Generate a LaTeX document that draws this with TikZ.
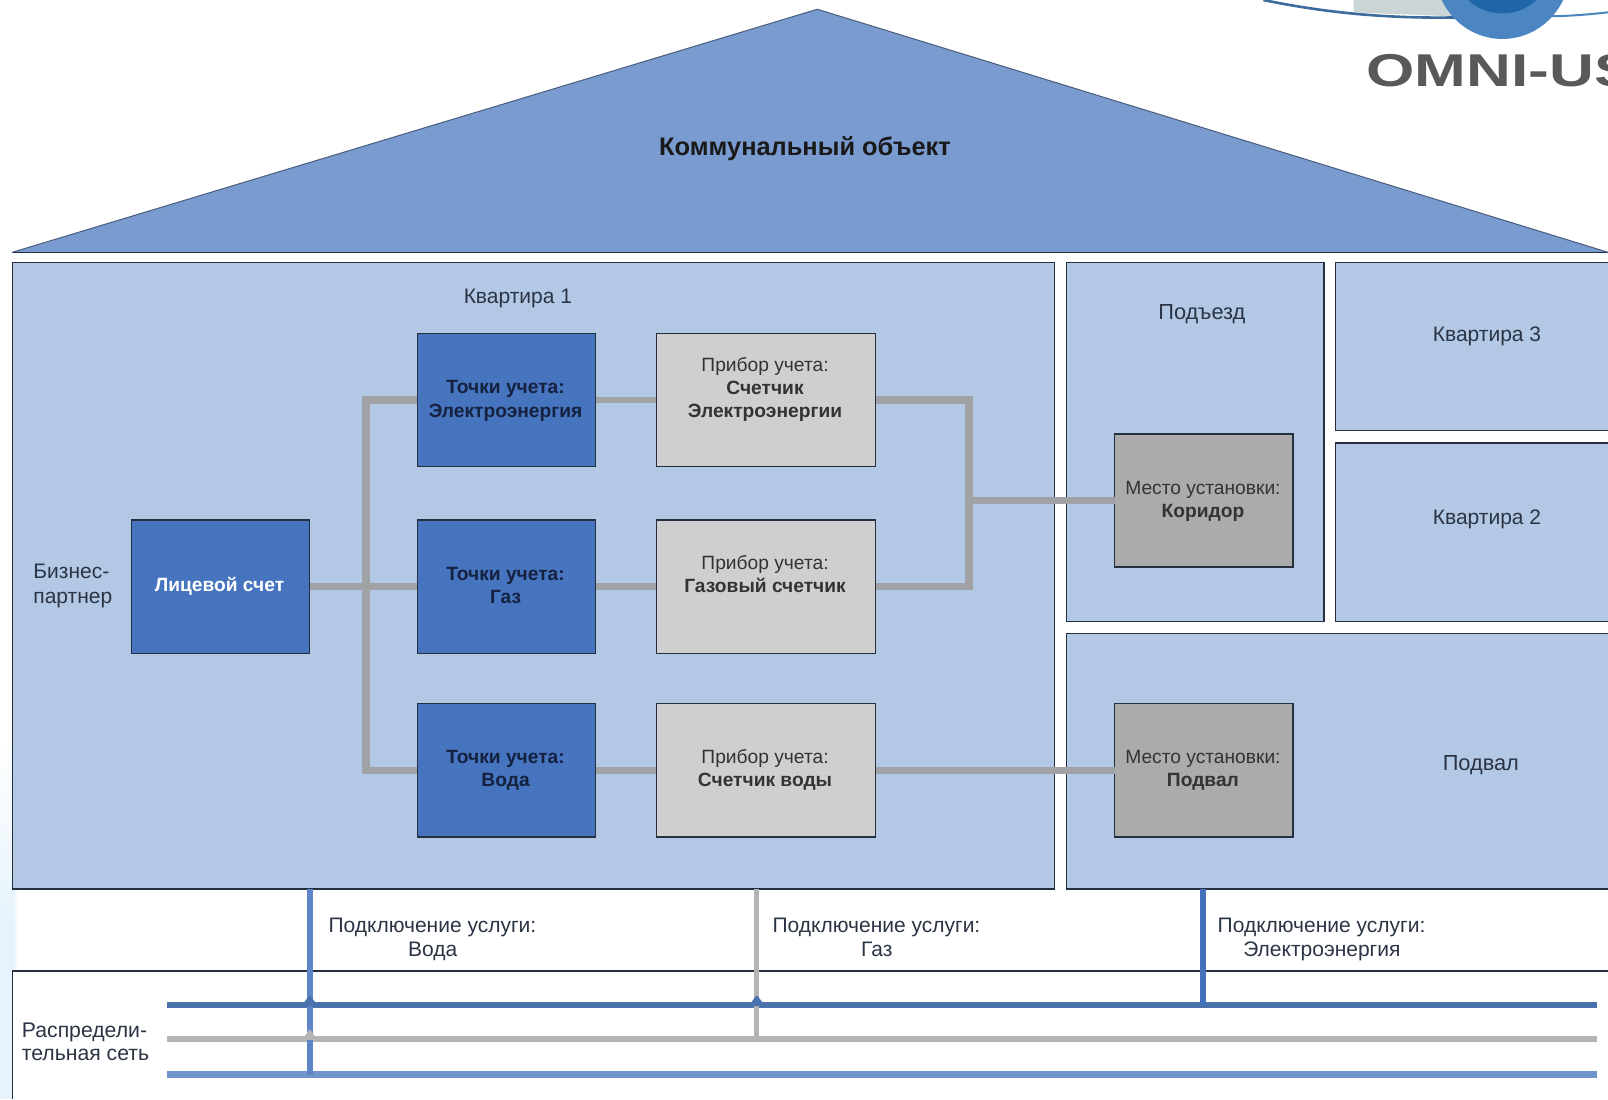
\documentclass[tikz,border=0pt]{standalone}
\usepackage{fontspec}
\setmainfont{Liberation Sans}
\definecolor{roofc}{HTML}{7A9BD0}
\definecolor{roomc}{HTML}{B3C8E4}
\definecolor{bluebox}{HTML}{4674BE}
\definecolor{graybox}{HTML}{CFCFCF}
\definecolor{darkgray}{HTML}{ABABAB}
\definecolor{wire}{HTML}{A0A2A6}
\definecolor{edgec}{HTML}{24303F}
\definecolor{netdark}{HTML}{4A73AE}
\definecolor{netgray}{HTML}{B4B4B4}
\definecolor{netlight}{HTML}{7094CC}
\definecolor{vblue}{HTML}{5E86C6}
\definecolor{vbluedark}{HTML}{4472B8}
\definecolor{logog}{HTML}{58595B}
\definecolor{logob}{HTML}{4C86C2}
\definecolor{logod}{HTML}{1F66A8}
\definecolor{logoimg}{HTML}{CBD5D5}
\definecolor{strip}{HTML}{E6F3FC}
\definecolor{txt}{HTML}{2B3445}
\definecolor{txtb}{HTML}{14213F}
\tikzset{
  x=0.5128pt,y=-0.5128pt,
  every node/.style={font=\fontsize{10.5pt}{12.5pt}\selectfont,text=txt},
  room/.style={draw=edgec,line width=0.7pt,fill=roomc},
  boxn/.style={draw=edgec,line width=0.7pt,fill=#1,anchor=north west,outer sep=0pt,minimum width=89.2pt,minimum height=66.7pt,inner sep=0pt,align=center},
  lab/.style={align=center,inner sep=0pt},
  bl/.style={font=\fontsize{9.6pt}{11.6pt}\selectfont\bfseries,text=txtb,align=center,inner sep=0pt},
  gl/.style={lab,text=black!80,font=\fontsize{9.6pt}{11.6pt}\selectfont},
  conn/.style={draw=wire,line width=3.3pt,line join=miter},
  connthick/.style={draw=wire,line width=3.7pt,line join=miter},
  netline/.style={line width=3pt},
  hump/.style={rounded corners=1pt},
}
\begin{document}
\begin{tikzpicture}
\useasboundingbox (0,0) rectangle (1568,1071.7);
\clip (0,0) rectangle (1568,1071.7);
% left strip
\shade[top color=white,bottom color=strip] (0,720) rectangle (12,900);
\fill[strip] (0,900) rectangle (12,1071.7);
\shade[left color=strip,right color=white] (12,867) rectangle (18,947);
% logo
\fill[logoimg] (1320,0) -- (1432,0) -- (1418,16) -- (1320,12) -- cycle;
\draw[logob!80!black,line width=1.3pt] (1232,0) .. controls (1300,14) and (1360,18) .. (1420,17);
\draw[logob,line width=1pt] (1500,16) .. controls (1530,16) and (1550,14) .. (1568,12);
\fill[logob] (1465,-30) ellipse (66 and 68);
\fill[logod] (1465,-25) ellipse (44 and 38);
\node[font=\fontsize{23pt}{23pt}\selectfont\bfseries,text=logog,anchor=west,inner sep=0pt,xscale=1.35] (logo) at (1332,69) {OMNI-US};
% roof
\fill[roofc] (12,246) -- (797,9) -- (1568,246) -- cycle;
\draw[edgec,line width=0.7pt] (12,246.5) -- (1568,246.5);
\draw[roofc!60!black,line width=0.5pt] (12,246) -- (797,9) -- (1568,246);
\node[font=\fontsize{12.7pt}{15pt}\selectfont\bfseries,inner sep=0pt,text=black!90] (t) at (785,145) {Коммунальный объект};
% rooms
\draw[room] (12,256) rectangle (1028,867);
\draw[room] (1040,256) rectangle (1291,606);
\draw[room] (1302,256) rectangle (1580,420);
\draw[room] (1302,432) rectangle (1580,606);
\draw[room] (1040,618) rectangle (1580,867);
\node[lab] (k1) at (505,291) {Квартира 1};
\node[lab,font=\fontsize{10.9pt}{12.5pt}\selectfont] (pod) at (1172,306) {Подъезд};
\node[lab] (k3) at (1450,328) {Квартира 3};
\node[lab] (k2) at (1450,506) {Квартира 2};
\node[lab,font=\fontsize{10.9pt}{12.5pt}\selectfont] (pv) at (1444,746) {Подвал};
\node[lab,align=left] (bp) at (71,571) {Бизнес-\\партнер};
% boxes
\node[boxn=bluebox] (acc) at (128,507) {};
\node[boxn=bluebox] (p1) at (407,325) {};
\node[boxn=bluebox] (p2) at (407,507) {};
\node[boxn=bluebox] (p3) at (407,686) {};
\node[boxn=graybox,minimum width=109.7pt] (m1) at (640,325) {};
\node[boxn=graybox,minimum width=109.7pt] (m2) at (640,507) {};
\node[boxn=graybox,minimum width=109.7pt] (m3) at (640,686) {};
\node[boxn=darkgray] (s1) at (1087,423) {};
\node[boxn=darkgray] (s2) at (1087,686) {};
% connectors
\coordinate (busX) at (357,0);
\coordinate (rX) at (945,0);
\draw[conn] (acc.east) -- (p2.west);
\draw[connthick] (p1.west) -- (busX |- p1.west) -- (busX |- p3.west) -- (p3.west);
\draw[conn] (p1.east) -- (m1.west);
\draw[conn] (p2.east) -- (m2.west);
\draw[conn] (p3.east) -- (m3.west);
\draw[connthick] (m1.east) -- (rX |- m1.east) -- (rX |- m2.east) -- (m2.east);
\draw[conn] (rX |- s1.west) -- (s1.west);
\draw[conn] (m3.east) -- (s2.west);
% box texts
\node[bl,text=white] (t0) at (214,572) {Лицевой счет};
\node[bl] (t1) at (493,391) {Точки учета:\\Электроэнергия};
\node[bl] (t2) at (493,571) {Точки учета:\\Газ};
\node[bl] (t3) at (493,751) {Точки учета:\\Вода};
\node[gl] (g1) at (746,380) {Прибор учета:\\\textbf{Счетчик}\\\textbf{Электроэнергии}};
\node[gl] (g2) at (746,560) {Прибор учета:\\\textbf{Газовый счетчик}};
\node[gl] (g3) at (746,751) {Прибор учета:\\\textbf{Счетчик воды}};
\node[gl] (d1) at (1173,489) {Место установки:\\\textbf{Коридор}};
\node[gl] (d2) at (1173,751) {Место установки:\\\textbf{Подвал}};
% network
\draw[edgec,line width=0.7pt] (12,947) -- (1568,947);
\draw[edgec,line width=0.7pt] (12,947) -- (12,1072);
\coordinate (a1) at (163,980); \coordinate (a2) at (1557,980);
\coordinate (b1) at (163,1013); \coordinate (b2) at (1557,1013);
\coordinate (c1) at (163,1048); \coordinate (c2) at (1557,1048);
\draw[netlight,line width=3.4pt] (c1) -- (c2);
\draw[netgray,netline] (b1) -- (b2);
\draw[netdark,netline] (a1) -- (a2);
\coordinate (v1) at (302,867); \coordinate (v1e) at (302,1048);
\coordinate (v2) at (738,867); \coordinate (v2e) at (738,1013);
\coordinate (v3) at (1173,867); \coordinate (v3e) at (1173,980);
\draw[netgray,line width=2.4pt] (v2) -- (v2e);
\draw[vblue,line width=2.8pt] (v1) -- (v1e);
\draw[vbluedark,line width=3pt] (v3) -- (v3e);
\fill[netdark,hump] (294,981) -- (302,970) -- (310,981) -- cycle;
\fill[netdark,hump] (730,981) -- (738,970) -- (746,981) -- cycle;
\fill[netgray,hump] (295,1014) -- (302,1003) -- (309,1014) -- cycle;
\node[lab,anchor=west,align=left] (n1) at (320,904) {Подключение услуги:};
\node[lab] (n1b) at (422,928) {Вода};
\node[lab,anchor=west,align=left] (n2) at (753,904) {Подключение услуги:};
\node[lab] (n2b) at (855,926) {Газ};
\node[lab,anchor=west,align=left] (n3) at (1187,904) {Подключение услуги:};
\node[lab] (n3b) at (1289,928) {Электроэнергия};
\node[lab,align=left,anchor=west,font=\fontsize{10.6pt}{11.8pt}\selectfont] (rs) at (21,1016) {Распредели-\\тельная сеть};
\end{tikzpicture}
\end{document}
